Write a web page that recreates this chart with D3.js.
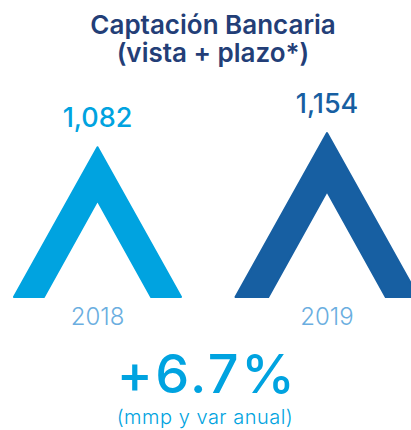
<!DOCTYPE html>
<html>
<head>
<meta charset="utf-8">
<script src="https://cdnjs.cloudflare.com/ajax/libs/d3/7.8.5/d3.min.js"></script>
<style>
  body { margin: 0; background: #fff; }
  text { font-family: Inter, "Open Sans", sans-serif; }
</style>
</head>
<body>
<script>
var width = 411, height = 430;

// data
var years = ["2018", "2019"];
var values = [1082, 1154];
var valueLabels = ["1,082", "1,154"];
var colors = ["#00a3e0", "#175fa2"];
var change = "+6.7%";
var titleLines = ["Captación Bancaria", "(vista + plazo*)"];
var note = "(mmp y var anual)";

var svg = d3.select("body")
    .append("svg")
    .attr("width", width)
    .attr("height", height);

var x = d3.scalePoint()
    .domain(years)
    .range([97.5, 327]);

var base = 297;
var y = d3.scaleLinear()
    .domain([320, 1154])
    .range([base, 132]);

// title
svg.selectAll(".title")
    .data(titleLines)
    .enter().append("text")
    .attr("class", "title")
    .attr("x", 213)
    .attr("y", function (d, i) { return 34 + i * 28; })
    .attr("text-anchor", "middle")
    .attr("font-size", 26)
    .attr("font-weight", 600)
    .attr("fill", "#233e77")
    .text(function (d) { return d; });

// chevron shape, scaled by height
function chevron(cx, top) {
    var h = base - top,
        hw = 0.558 * h,
        leg = 0.2 * h,
        inner = 0.355 * h;
    return "M" + cx + "," + top +
        "L" + (cx + hw) + "," + base +
        "L" + (cx + hw - leg) + "," + base +
        "L" + cx + "," + (top + inner) +
        "L" + (cx - hw + leg) + "," + base +
        "L" + (cx - hw) + "," + base + "Z";
}

svg.selectAll(".bar")
    .data(values)
    .enter().append("path")
    .attr("class", "bar")
    .attr("d", function (d, i) { return chevron(x(years[i]), y(d) + 1); })
    .attr("fill", function (d, i) { return colors[i]; })
    .attr("stroke", function (d, i) { return colors[i]; })
    .attr("stroke-width", 2)
    .attr("stroke-linejoin", "round");

// value labels
svg.selectAll(".val")
    .data(values)
    .enter().append("text")
    .attr("class", "val")
    .attr("x", function (d, i) { return x(years[i]); })
    .attr("y", function (d) { return y(d) - 19; })
    .attr("text-anchor", "middle")
    .attr("font-size", 27)
    .attr("font-weight", 500)
    .attr("fill", function (d, i) { return colors[i]; })
    .text(function (d, i) { return valueLabels[i]; });

// year labels
svg.selectAll(".year")
    .data(years)
    .enter().append("text")
    .attr("class", "year")
    .attr("x", function (d) { return x(d); })
    .attr("y", 324.5)
    .attr("text-anchor", "middle")
    .attr("font-size", 24)
    .attr("font-weight", 300)
    .attr("fill", "#6aaee0")
    .text(function (d) { return d; });

svg.append("text")
    .attr("x", 207)
    .attr("y", 393)
    .attr("text-anchor", "middle")
    .attr("font-size", 54)
    .attr("font-weight", 500)
    .attr("letter-spacing", 2.5)
    .attr("fill", "#00a3e0")
    .text(change);

svg.append("text")
    .attr("x", 205)
    .attr("y", 424)
    .attr("text-anchor", "middle")
    .attr("font-size", 20)
    .attr("font-weight", 300)
    .attr("letter-spacing", 0.5)
    .attr("fill", "#00a3e0")
    .text(note);
</script>
</body>
</html>
